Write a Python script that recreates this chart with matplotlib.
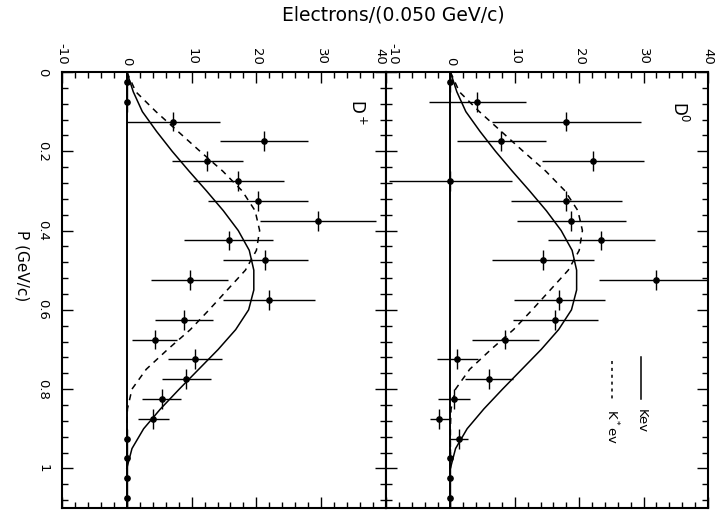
import numpy as np
import matplotlib.pyplot as plt
from matplotlib.ticker import MultipleLocator

plt.rcParams['font.family'] = ['DejaVu Sans']

# momentum bin centres (GeV/c), 0.05 wide
p_bins = [0.025, 0.075, 0.125, 0.175, 0.225, 0.275, 0.325, 0.375, 0.425, 0.475, 0.525,
          0.575, 0.625, 0.675, 0.725, 0.775, 0.825, 0.875, 0.925, 0.975, 1.025, 1.075]
bin_half = 0.025

# electrons per bin, D+ sample
dplus_counts = [0, 0, 7.2, 21.2, 12.4, 17.2, 20.2, 29.5, 15.7, 21.4, 9.7,
                22.0, 8.8, 4.3, 10.5, 9.2, 5.4, 4.1, 0, 0, 0, 0]
dplus_err = [0, 0, 7.2, 6.8, 5.5, 7.0, 7.7, 9.0, 6.9, 6.5, 5.9,
             7.1, 4.5, 3.5, 4.2, 3.8, 3.0, 2.4, 0, 0, 0, 0]

# electrons per bin, D0 sample
d0_counts = [0, 4.2, 18.0, 7.9, 22.2, 0, 18.0, 18.8, 23.4, 14.4, 31.9,
             16.9, 16.3, 8.5, 1.1, 6.0, 0.5, -1.7, 1.3, 0, 0, 0]
d0_err = [0, 7.5, 11.6, 6.9, 7.9, 9.5, 8.6, 8.5, 8.3, 7.9, 8.8,
          7.1, 6.6, 5.2, 3.2, 3.7, 2.5, 1.5, 1.4, 0, 0, 0]

# model spectra
p_curve = [0, 0.05, 0.1, 0.15, 0.2, 0.25, 0.3, 0.35, 0.4, 0.45, 0.5,
           0.55, 0.6, 0.65, 0.7, 0.75, 0.8, 0.85, 0.9, 0.95, 1.0]
kev = [0, 1.0, 2.4, 4.6, 7.0, 9.6, 12.3, 14.9, 17.2, 18.9, 19.6,
       19.6, 18.8, 16.8, 14.1, 11.1, 8.1, 5.2, 2.6, 0.8, 0]
kstar_ev = [0, 1.4, 4.5, 7.9, 11.3, 14.8, 17.8, 19.8, 20.5, 20.0, 18.3,
            15.5, 12.7, 9.8, 6.3, 3.0, 0.8, 0.1, 0, 0, 0]

x_ticks = [-10, 0, 10, 20, 30, 40]
x_labels = ['-10', '0', '10', '20', '30', '40']
p_ticks = [0, 0.2, 0.4, 0.6, 0.8, 1.0]
p_labels = ['0', '0.2', '0.4', '0.6', '0.8', '1']

W, H = 724, 513
fig = plt.figure(figsize=(W / 100, H / 100), dpi=100)
bottom = 1 - 508 / H
height = (508 - 72) / H
ax1 = fig.add_axes([62 / W, bottom, (386 - 62) / W, height])
ax2 = fig.add_axes([386 / W, bottom, (708 - 386) / W, height])


def draw_panel(ax, counts, err, name):
    ax.axvline(0, color='black', lw=1.4, zorder=1)
    ax.plot(kev, p_curve, color='black', lw=1.1, zorder=2)
    ax.plot(kstar_ev, p_curve, color='black', lw=1.1, dashes=(4, 3.5), zorder=2)
    ax.errorbar(counts, p_bins, xerr=err, yerr=bin_half, fmt='o', ms=3.8,
                color='black', ecolor='black', elinewidth=1.0, capsize=0, zorder=3)
    ax.set_xlim(-10, 40)
    ax.set_ylim(1.1, 0)
    ax.xaxis.tick_top()
    ax.set_xticks(x_ticks, x_labels)
    ax.set_yticks(p_ticks, p_labels)
    ax.xaxis.set_minor_locator(MultipleLocator(2))
    ax.yaxis.set_minor_locator(MultipleLocator(0.04))
    ax.tick_params(which='both', direction='in', top=True, bottom=True,
                   left=True, right=True, labelbottom=False, labeltop=True,
                   width=1.0)
    ax.tick_params(which='major', length=8)
    ax.tick_params(which='minor', length=4)
    ax.tick_params(axis='x', labelrotation=-90, labelsize=9.5, pad=5)
    ax.tick_params(axis='y', labelrotation=-90, labelsize=9.5, pad=9)
    for lab in ax.get_yticklabels():
        lab.set_va('center')
    for s in ax.spines.values():
        s.set_linewidth(1.5)
    ax.text(35.5, 0.1, name, rotation=-90, fontsize=12, ha='center', va='center')


draw_panel(ax1, dplus_counts, dplus_err, r'D$^+$')
draw_panel(ax2, d0_counts, d0_err, r'D$^0$')
ax2.tick_params(labelleft=False)

# keep the labels at the shared border from overlapping
ax1.xaxis.get_major_ticks()[-1].label2.set_ha('right')
ax2.xaxis.get_major_ticks()[0].label2.set_ha('left')

fig.text(22 / W, 1 - 266 / H, 'P (GeV/c)', rotation=-90, fontsize=11,
         ha='center', va='center')

# key for the two model curves
ax2.plot([29.6, 29.6], [0.72, 0.826], color='black', lw=1.1)
ax2.text(29.6, 0.85, 'Kev', rotation=-90, fontsize=9.5, ha='center', va='top')
ax2.plot([25.1, 25.1], [0.73, 0.83], color='black', lw=1.1, dashes=(2, 2.5))
ax2.text(25.1, 0.85, r'K$^*$ev', rotation=-90, fontsize=9.5, ha='center', va='top')

fig.text(393 / W, 1 - 15 / H, 'Electrons/(0.050 GeV/c)', fontsize=13.5,
         ha='center', va='center')

fig.savefig('out.png', dpi=100)
